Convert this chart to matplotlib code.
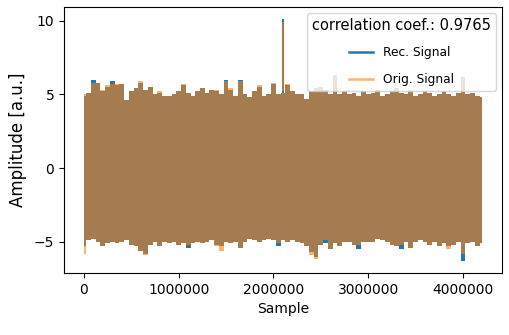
import numpy as np
import matplotlib
matplotlib.use('Agg')
import matplotlib.pyplot as plt
from matplotlib.lines import Line2D
from matplotlib.ticker import MultipleLocator

# envelope of the signals, read every 50000 samples (0 .. 4200000)
step = 50000
rec_upper = [4.9, 5.1, 6.0, 5.8, 5.2, 5.5, 5.9, 5.6, 5.7, 4.6,
             5.2, 5.4, 5.8, 5.3, 5.5, 5.0, 5.1, 4.9, 4.9, 5.0,
             5.2, 5.6, 5.1, 4.9, 5.2, 5.4, 5.1, 5.3, 5.2, 5.0,
             6.0, 5.3, 4.9, 6.0, 5.0, 4.8, 5.2, 5.5, 4.9, 5.0,
             5.7, 5.0, 5.1, 5.6, 5.2, 5.0, 5.0, 4.7, 5.2, 5.4,
             5.5, 5.3, 5.0, 6.3, 5.0, 5.2, 5.0, 5.1, 4.9, 5.2,
             5.0, 5.1, 5.3, 4.9, 5.0, 5.2, 5.4, 5.1, 5.0, 5.3,
             4.9, 5.0, 5.2, 5.1, 4.9, 5.0, 5.2, 5.0, 4.9, 5.1,
             6.2, 5.0, 5.1, 4.9, 4.8]
orig_upper = [5.0, 5.1, 5.8, 5.8, 5.3, 5.6, 5.7, 5.7, 5.7, 4.6,
              5.2, 5.4, 5.9, 5.3, 5.5, 5.0, 5.2, 4.9, 4.9, 5.0,
              5.2, 5.7, 5.1, 4.9, 5.2, 5.4, 5.1, 5.3, 5.3, 5.0,
              5.9, 5.4, 4.9, 5.9, 5.0, 4.8, 5.2, 5.6, 4.9, 5.0,
              5.8, 5.0, 5.1, 5.7, 5.2, 5.0, 5.0, 4.7, 5.2, 5.4,
              5.5, 5.3, 5.0, 6.3, 5.0, 5.2, 5.0, 5.1, 4.9, 5.2,
              5.0, 5.1, 5.3, 4.9, 5.0, 5.2, 5.4, 5.1, 5.0, 5.3,
              4.9, 5.0, 5.2, 5.1, 4.9, 5.0, 5.2, 5.0, 4.9, 5.1,
              6.2, 5.0, 5.1, 4.9, 4.8]
rec_lower = [-5.3, -4.9, -4.8, -5.0, -5.3, -5.1, -5.0, -5.1, -5.0, -4.9,
             -5.2, -5.3, -5.6, -5.8, -5.2, -5.0, -5.3, -5.0, -5.1, -5.0,
             -5.2, -5.1, -5.4, -5.1, -5.0, -5.1, -5.0, -4.9, -5.2, -5.3,
             -5.0, -5.1, -5.0, -5.4, -5.0, -4.8, -4.9, -5.0, -4.9, -4.8,
             -4.9, -5.3, -4.9, -5.0, -4.9, -5.0, -5.1, -5.3, -5.7, -6.0,
             -5.2, -5.1, -5.5, -5.1, -5.3, -5.0, -5.0, -5.2, -5.5, -5.0,
             -5.0, -5.0, -4.8, -4.9, -5.0, -5.2, -5.3, -5.5, -5.0, -5.4,
             -5.0, -4.9, -5.0, -5.2, -5.0, -5.3, -5.1, -5.3, -5.2, -5.0,
             -6.3, -5.1, -5.0, -5.3, -5.1]
orig_lower = [-5.8, -4.9, -4.8, -5.0, -5.3, -5.1, -5.0, -5.1, -5.0, -4.9,
              -5.2, -5.3, -5.6, -5.9, -5.2, -5.0, -5.3, -5.0, -5.1, -5.0,
              -5.2, -5.1, -5.2, -5.1, -5.0, -5.1, -5.0, -4.9, -5.3, -5.6,
              -5.0, -5.1, -5.0, -5.4, -5.0, -4.8, -4.9, -5.0, -4.9, -4.8,
              -4.9, -5.1, -4.9, -5.0, -4.9, -5.0, -5.1, -5.3, -5.9, -6.2,
              -5.2, -4.9, -5.5, -5.1, -5.3, -5.0, -5.0, -5.2, -5.2, -5.0,
              -5.0, -5.0, -4.8, -4.9, -5.0, -5.2, -5.3, -5.2, -5.0, -5.4,
              -5.0, -4.9, -5.0, -5.2, -5.0, -5.3, -5.1, -5.5, -5.2, -5.0,
              -5.8, -5.1, -5.0, -5.3, -5.1]

# the single large spike
spike_pos = [2100000]
spike_rec = [10.1]
spike_orig = [9.9]

corr = 0.9765

pos = np.arange(len(rec_upper)) * step
blue = '#1f77b4'
orange = '#ff7f0e'

fig = plt.figure(figsize=(5.1, 3.35), dpi=100)
ax = fig.add_subplot(1, 1, 1)
fig.subplots_adjust(left=0.1255, right=0.984, bottom=0.185, top=0.979)

# reconstructed signal
ax.fill_between(pos, rec_lower, rec_upper, step='mid', color=blue, lw=0)
ax.vlines(spike_pos, 5.1, spike_rec, color=blue, lw=1.5)

# original signal
ax.fill_between(pos, orig_lower, orig_upper, step='mid', color=orange,
                alpha=0.6, lw=0)
ax.vlines(spike_pos, 5.2, spike_orig, color=orange, alpha=0.6, lw=1.5)

handles = [Line2D([], [], color=blue, lw=1.8),
           Line2D([], [], color=orange, alpha=0.6, lw=1.8)]
ax.legend(handles, ['Rec. Signal', 'Orig. Signal'], loc='upper right',
          title='correlation coef.: %.4f' % corr, fontsize=8.8,
          labelspacing=1.1, title_fontsize=10.5)

ax.yaxis.set_major_locator(MultipleLocator(5))
ax.ticklabel_format(style='plain', axis='x')
ax.set_xlabel('Sample')
ax.set_ylabel('Amplitude [a.u.]', fontsize=12, labelpad=5)

fig.savefig('out.png', dpi=100)
